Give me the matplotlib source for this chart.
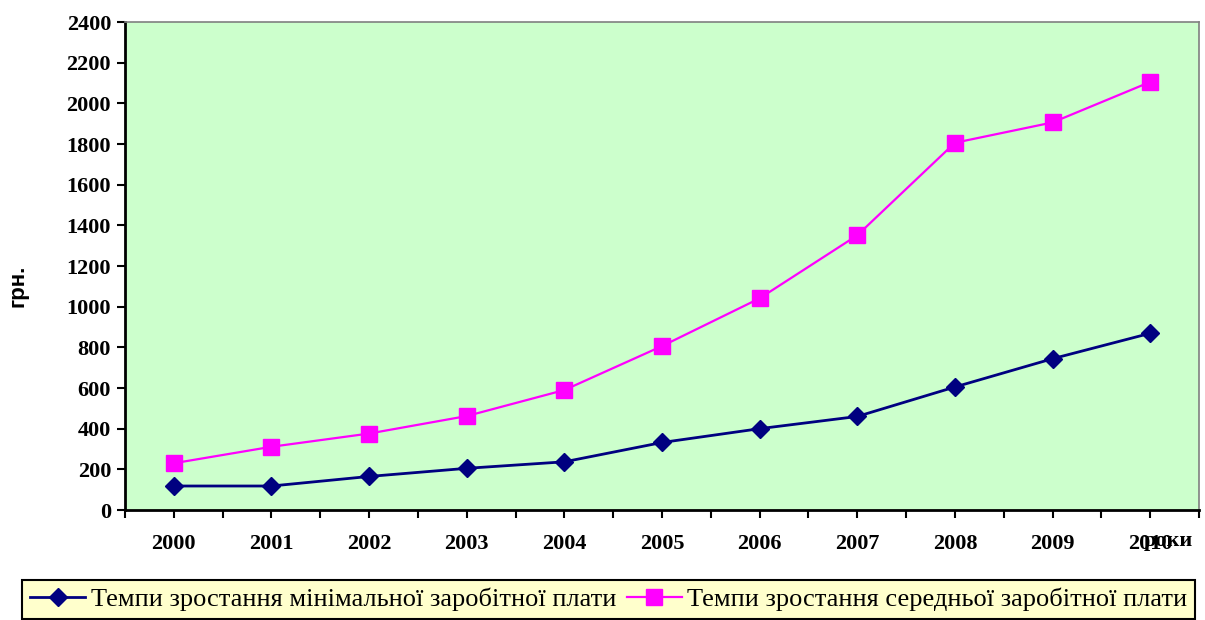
import numpy as np
import matplotlib.pyplot as plt

years = ['2000', '2001', '2002', '2003', '2004', '2005',
         '2006', '2007', '2008', '2009', '2010']
min_wage = [118, 118, 165, 205, 237, 332, 400, 460, 605, 744, 869]
avg_wage = [230, 311, 376, 462, 590, 806, 1041, 1351, 1806, 1906, 2105]

label_min = 'Темпи зростання мінімальної заробітної плати'
label_avg = 'Темпи зростання середньої заробітної плати'

serif = ['Liberation Serif', 'DejaVu Serif']

fig = plt.figure(figsize=(12.05, 6.2), dpi=100)
ax = fig.add_axes([125 / 1205, 110 / 620, 1074 / 1205, 488 / 620])
ax.set_facecolor('#CCFFCC')

x = np.arange(len(years))
ax.plot(x, min_wage, color='#000080', lw=2, marker='D', ms=9,
        label=label_min)
ax.plot(x, avg_wage, color='#FF00FF', lw=1.6, marker='s', ms=11,
        label=label_avg)

ax.set_xlim(-0.5, len(years) - 0.5)
ax.set_ylim(0, 2400)
ax.set_yticks(np.arange(0, 2401, 200))
ax.set_xticks(x)
ax.set_xticks(np.arange(-0.5, len(years), 1.0), minor=True)
ax.set_xticklabels(years)

for lab in ax.get_xticklabels() + ax.get_yticklabels():
    lab.set_family(serif)
    lab.set_fontweight('bold')
    lab.set_fontsize(16)

ax.tick_params(axis='x', which='both', direction='out', length=6,
               width=1.5, pad=11)
ax.tick_params(axis='y', direction='out', length=6, width=1.5, pad=4)

for s in ['left', 'bottom']:
    ax.spines[s].set_linewidth(2)
    ax.spines[s].set_color('black')
for s in ['top', 'right']:
    ax.spines[s].set_linewidth(1.2)
    ax.spines[s].set_color('#808080')

ax.set_ylabel('грн.', fontsize=16, fontweight='bold',
              family=['Liberation Sans', 'DejaVu Sans'])
ax.yaxis.set_label_coords(-0.09, 0.46)

fig.text(1168 / 1205, (620 - 541) / 620, 'роки', family=serif,
         fontweight='bold', fontsize=16, ha='center', va='center')

leg = fig.legend(loc='upper left', bbox_to_anchor=(22 / 1205, 40 / 620),
                 ncol=2, borderaxespad=0, frameon=True,
                 fancybox=False, prop={'family': serif, 'size': 19},
                 handlelength=2.1, handletextpad=0.2, columnspacing=0.4,
                 borderpad=0.3)
leg.get_frame().set_facecolor('#FFFFCC')
leg.get_frame().set_edgecolor('black')
leg.get_frame().set_linewidth(1.5)
leg.get_frame().set_alpha(1)

fig.savefig('out.png', dpi=100)
